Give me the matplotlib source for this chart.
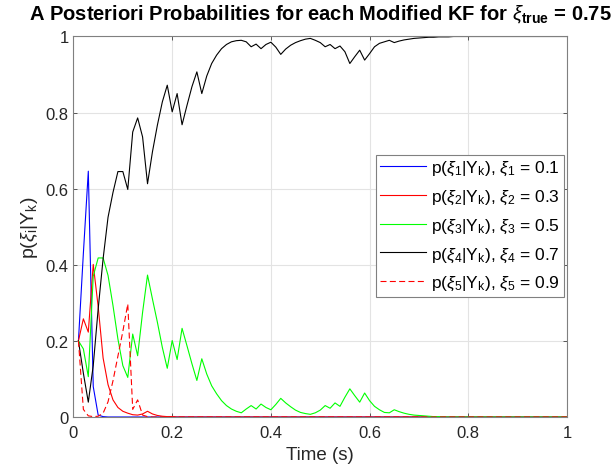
import numpy as np
import matplotlib
matplotlib.use('Agg')
import matplotlib.pyplot as plt
from matplotlib.ticker import FormatStrFormatter

# time axis: one sample every 0.01 s
time_s = np.linspace(0.01, 1.0, 100)

# posterior probability of each modified KF
p_xi1 = [0.200, 0.430, 0.646, 0.080, 0.005, 0.001] + [0.0] * 94

p_xi2 = [0.200, 0.258, 0.223, 0.401, 0.290, 0.155, 0.085, 0.045, 0.025, 0.015,
         0.010, 0.006, 0.005, 0.008, 0.015, 0.008, 0.004, 0.002, 0.001, 0.001] + [0.0] * 80

p_xi3 = [0.200, 0.179, 0.106, 0.370, 0.418, 0.418, 0.372, 0.293, 0.205, 0.135,
         0.104, 0.218, 0.161, 0.275, 0.373, 0.310, 0.249, 0.183, 0.128, 0.201,
         0.151, 0.233, 0.187, 0.140, 0.096, 0.153, 0.113, 0.082, 0.061, 0.043,
         0.030, 0.021, 0.015, 0.011, 0.021, 0.030, 0.021, 0.034, 0.025, 0.019,
         0.033, 0.049, 0.037, 0.027, 0.018, 0.012, 0.009, 0.007, 0.011, 0.018,
         0.030, 0.023, 0.037, 0.028, 0.052, 0.074, 0.056, 0.039, 0.063, 0.043,
         0.028, 0.019, 0.012, 0.011, 0.019, 0.014, 0.010, 0.007, 0.005, 0.004,
         0.003, 0.002, 0.001, 0.001] + [0.0] * 26

p_xi4 = [0.200, 0.115, 0.039, 0.135, 0.284, 0.416, 0.525, 0.590, 0.645, 0.645,
         0.598, 0.749, 0.786, 0.736, 0.613, 0.697, 0.767, 0.828, 0.872, 0.802,
         0.850, 0.768, 0.819, 0.868, 0.907, 0.850, 0.896, 0.929, 0.951, 0.968,
         0.979, 0.986, 0.989, 0.990, 0.986, 0.973, 0.980, 0.968, 0.979, 0.985,
         0.972, 0.953, 0.967, 0.977, 0.984, 0.989, 0.993, 0.995, 0.990, 0.984,
         0.973, 0.979, 0.968, 0.975, 0.960, 0.929, 0.947, 0.964, 0.938, 0.955,
         0.973, 0.982, 0.986, 0.990, 0.984, 0.988, 0.991, 0.993, 0.995, 0.996,
         0.997, 0.998, 0.998, 0.999, 0.999, 0.999] + [1.0] * 24

p_xi5 = [0.200, 0.020, 0.003, 0.001, 0.002, 0.010, 0.040, 0.095, 0.160, 0.225,
         0.297, 0.020, 0.045, 0.005, 0.001] + [0.0] * 85

xi_vals = [0.1, 0.3, 0.5, 0.7, 0.9]
xi_true = 0.75

plt.rcParams['font.family'] = ['Liberation Sans', 'DejaVu Sans']
plt.rcParams['mathtext.fontset'] = 'custom'
plt.rcParams['mathtext.rm'] = 'Liberation Sans'
plt.rcParams['mathtext.it'] = 'Liberation Sans:italic'
plt.rcParams['mathtext.bf'] = 'Liberation Sans:bold'

fig = plt.figure(figsize=(6.13, 4.77), dpi=100)
ax = fig.add_axes([0.1199, 0.1237, 0.805, 0.7977])

series = [p_xi1, p_xi2, p_xi3, p_xi4, p_xi5]
styles = [('b', '-'), ('r', '-'), ('#00ff00', '-'), ('k', '-'), ('r', '--')]
for i, (vals, (c, ls)) in enumerate(zip(series, styles)):
    n = i + 1
    lab = r'p($\xi_%d$|Y$_\mathrm{k}$), $\xi_%d$ = %g' % (n, n, xi_vals[i])
    line, = ax.plot(time_s, vals, color=c, linestyle=ls, linewidth=0.8, label=lab)
    if ls == '--':
        line.set_dashes((5.4, 3.0))

ax.set_xlim(0, 1)
ax.set_ylim(0, 1)
ax.set_xticks([0, 0.2, 0.4, 0.6, 0.8, 1])
ax.set_yticks([0, 0.2, 0.4, 0.6, 0.8, 1])
ax.xaxis.set_major_formatter(FormatStrFormatter('%g'))
ax.yaxis.set_major_formatter(FormatStrFormatter('%g'))
ax.grid(True, color='#e3e3e3', linewidth=0.8)
ax.set_axisbelow(True)
ax.tick_params(direction='in', top=True, right=True, length=3, width=0.6,
               color='#404040', labelsize=12, labelcolor='#262626')
ax.tick_params(axis='x', pad=6)
for sp in ax.spines.values():
    sp.set_color('#808080')
    sp.set_linewidth(0.8)

ax.set_xlabel('Time (s)', fontsize=13.5, color='#262626')
ax.set_ylabel(r'p($\xi_\mathrm{i}$|Y$_\mathrm{k}$)', fontsize=14, color='#262626')
ax.set_title(r'A Posteriori Probabilities for each Modified KF for $\xi_{\mathbf{true}}$ = %g' % xi_true,
             fontsize=14.5, fontweight='bold', pad=12)

leg = ax.legend(loc='upper right', bbox_to_anchor=(0.994, 0.689), fontsize=12.5,
                handlelength=2.6, handletextpad=0.3, fancybox=False, framealpha=1,
                edgecolor='#808080', labelspacing=0.6, borderpad=0.25,
                borderaxespad=0)
leg.get_frame().set_linewidth(0.8)

plt.savefig('out.png', dpi=100)
plt.close()
